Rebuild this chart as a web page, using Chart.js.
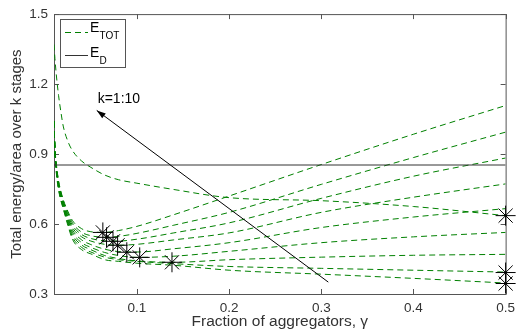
<!DOCTYPE html>
<html>
<head>
<meta charset="utf-8">
<script src="https://cdn.jsdelivr.net/npm/chart.js@4.4.1/dist/chart.umd.min.js"></script>
<style>
  html, body { margin: 0; padding: 0; background: #fff; }
  #wrap { width: 521px; height: 333px; }
</style>
</head>
<body>
<div id="wrap"><canvas id="energyChart" width="521" height="333"></canvas></div>
<script>
const gammaGrid = [0.01, 0.011, 0.0125, 0.015, 0.0175, 0.02, 0.025, 0.03, 0.04, 0.05, 0.065, 0.08, 0.1, 0.14, 0.2, 0.3, 0.4, 0.5];

// E_TOT, one curve per number of stages k = 1..10
const eTotK1 = [1.37, 1.31, 1.24, 1.15, 1.08, 1.02, 0.955, 0.915, 0.87, 0.843, 0.81, 0.79, 0.775, 0.748, 0.713, 0.70, 0.675, 0.636];
const eTotK2 = [1.04, 0.91, 0.82, 0.745, 0.70, 0.665, 0.595, 0.535, 0.49, 0.472, 0.447, 0.44, 0.432, 0.423, 0.402, 0.385, 0.367, 0.347];
const eTotK3 = [1.04, 0.91, 0.825, 0.75, 0.705, 0.67, 0.603, 0.545, 0.50, 0.48, 0.458, 0.447, 0.44, 0.43, 0.418, 0.41, 0.402, 0.394];
const eTotK4 = [1.04, 0.915, 0.83, 0.755, 0.71, 0.675, 0.61, 0.555, 0.51, 0.49, 0.465, 0.452, 0.442, 0.436, 0.447, 0.458, 0.466, 0.470];
const eTotK5 = [1.04, 0.915, 0.835, 0.76, 0.715, 0.68, 0.618, 0.565, 0.52, 0.50, 0.478, 0.465, 0.457, 0.462, 0.483, 0.52, 0.545, 0.564];
const eTotK6 = [1.04, 0.92, 0.84, 0.765, 0.72, 0.685, 0.625, 0.575, 0.532, 0.512, 0.492, 0.482, 0.48, 0.494, 0.52, 0.585, 0.63, 0.666];
const eTotK7 = [1.04, 0.92, 0.845, 0.77, 0.725, 0.69, 0.632, 0.585, 0.545, 0.527, 0.513, 0.509, 0.513, 0.532, 0.562, 0.65, 0.715, 0.772];
const eTotK8 = [1.04, 0.925, 0.85, 0.775, 0.73, 0.695, 0.64, 0.595, 0.555, 0.538, 0.528, 0.527, 0.535, 0.562, 0.605, 0.71, 0.805, 0.883];
const eTotK9 = [1.04, 0.925, 0.855, 0.78, 0.735, 0.70, 0.648, 0.605, 0.565, 0.55, 0.543, 0.547, 0.56, 0.595, 0.65, 0.77, 0.885, 0.994];
const eTotK10 = [1.04, 0.93, 0.86, 0.785, 0.74, 0.705, 0.655, 0.615, 0.58, 0.567, 0.564, 0.572, 0.59, 0.64, 0.72, 0.855, 0.985, 1.108];

// E_D is flat
const eD = 0.853;

// minimum of each curve (the * markers)
const minGamma = [0.5, 0.5, 0.5, 0.138, 0.103, 0.089, 0.079, 0.074, 0.067, 0.063];
const minEnergy = [0.636, 0.345, 0.392, 0.436, 0.457, 0.479, 0.509, 0.526, 0.543, 0.564];

// ticks
const xTickValues = [0.1, 0.2, 0.3, 0.4, 0.5];
const yTickValues = [0.3, 0.6, 0.9, 1.2, 1.5];

// annotation arrow (data units) and its label
const arrowFrom = [0.3076, 0.351];
const arrowTo = [0.0564, 1.087];
const arrowLabel = 'k=1:10';
const arrowLabelAt = [0.0574, 1.134];

const GREEN = '#008000';
const FONT = "'Liberation Sans', Arial, sans-serif";
Chart.defaults.font.family = FONT;
Chart.defaults.color = '#333333';

const toPoints = ys => ys.map((y, i) => ({ x: gammaGrid[i], y: y }));

const curves = [eTotK1, eTotK2, eTotK3, eTotK4, eTotK5, eTotK6, eTotK7, eTotK8, eTotK9, eTotK10];

const datasets = [{
    label: 'minima',
    data: minGamma.map((g, i) => ({ x: g, y: minEnergy[i] })),
    showLine: false,
    pointStyle: 'star',
    pointRadius: 10,
    borderColor: '#000',
    backgroundColor: '#000',
    borderWidth: 1,
    clip: false,
    order: 0
}, {
    label: 'E_D',
    data: [{ x: gammaGrid[0], y: eD }, { x: gammaGrid[gammaGrid.length - 1], y: eD }],
    showLine: true,
    borderColor: '#333333',
    borderWidth: 1,
    pointRadius: 0,
    order: 1
}];

curves.forEach((ys, k) => {
    datasets.push({
        label: 'E_TOT k=' + (k + 1),
        data: toPoints(ys),
        showLine: true,
        borderColor: GREEN,
        borderWidth: 1,
        borderDash: [6, 4],
        pointRadius: 0,
        cubicInterpolationMode: 'monotone',
        order: 2
    });
});

// box, inward ticks, legend with subscripts and the arrow
const decorations = {
    id: 'decorations',
    beforeDatasetsDraw(chart) {
        const { ctx, chartArea: a, scales: { x, y } } = chart;
        ctx.save();
        ctx.strokeStyle = '#555';
        ctx.lineWidth = 1;
        ctx.strokeRect(a.left + 0.5, a.top + 0.5, a.right - a.left, a.bottom - a.top);
        ctx.beginPath();
        xTickValues.forEach(v => {
            const px = Math.round(x.getPixelForValue(v)) + 0.5;
            ctx.moveTo(px, a.bottom); ctx.lineTo(px, a.bottom - 5);
            ctx.moveTo(px, a.top); ctx.lineTo(px, a.top + 5);
        });
        yTickValues.forEach(v => {
            const py = Math.round(y.getPixelForValue(v)) + 0.5;
            ctx.moveTo(a.left, py); ctx.lineTo(a.left + 5, py);
            ctx.moveTo(a.right, py); ctx.lineTo(a.right - 5, py);
        });
        ctx.stroke();
        ctx.restore();
    },
    afterDatasetsDraw(chart) {
        const { ctx, scales: { x, y } } = chart;
        ctx.save();

        // arrow
        const x0 = x.getPixelForValue(arrowFrom[0]), y0 = y.getPixelForValue(arrowFrom[1]);
        const x1 = x.getPixelForValue(arrowTo[0]), y1 = y.getPixelForValue(arrowTo[1]);
        ctx.strokeStyle = '#000';
        ctx.lineWidth = 1;
        ctx.beginPath();
        ctx.moveTo(x0, y0);
        ctx.lineTo(x1, y1);
        ctx.stroke();
        const ang = Math.atan2(y1 - y0, x1 - x0);
        ctx.fillStyle = '#000';
        ctx.beginPath();
        ctx.moveTo(x1, y1);
        ctx.lineTo(x1 - 9 * Math.cos(ang) + 3 * Math.sin(ang), y1 - 9 * Math.sin(ang) - 3 * Math.cos(ang));
        ctx.lineTo(x1 - 9 * Math.cos(ang) - 3 * Math.sin(ang), y1 - 9 * Math.sin(ang) + 3 * Math.cos(ang));
        ctx.closePath();
        ctx.fill();

        ctx.fillStyle = '#000';
        ctx.font = '14px ' + FONT;
        ctx.textBaseline = 'middle';
        ctx.textAlign = 'left';
        ctx.fillText(arrowLabel, x.getPixelForValue(arrowLabelAt[0]), y.getPixelForValue(arrowLabelAt[1]));

        // legend
        ctx.fillStyle = '#fff';
        ctx.fillRect(60, 19, 65, 48);
        ctx.strokeStyle = '#555';
        ctx.strokeRect(60.5, 19.5, 65, 48);

        ctx.strokeStyle = GREEN;
        ctx.setLineDash([6, 4]);
        ctx.beginPath();
        ctx.moveTo(65, 32.5); ctx.lineTo(88, 32.5);
        ctx.stroke();
        ctx.setLineDash([]);
        ctx.strokeStyle = '#333';
        ctx.beginPath();
        ctx.moveTo(65, 55.5); ctx.lineTo(88, 55.5);
        ctx.stroke();

        ctx.fillStyle = '#000';
        ctx.textBaseline = 'alphabetic';
        ctx.font = '14px ' + FONT;
        ctx.fillText('E', 90, 32);
        ctx.fillText('E', 90, 57);
        ctx.font = '10px ' + FONT;
        ctx.fillText('TOT', 99.5, 39);
        ctx.fillText('D', 99.5, 64);
        ctx.restore();
    }
};

new Chart(document.getElementById('energyChart'), {
    type: 'scatter',
    data: { datasets: datasets },
    options: {
        responsive: false,
        animation: false,
        layout: { padding: { left: 0, right: 13, top: 12, bottom: 0 } },
        plugins: { legend: { display: false }, tooltip: { enabled: false } },
        scales: {
            x: {
                type: 'linear',
                min: 0.01,
                max: 0.5,
                afterBuildTicks: s => { s.ticks = xTickValues.map(v => ({ value: v })); },
                afterFit: s => { s.height = 39; },
                grid: { display: false, drawTicks: false },
                border: { display: false },
                ticks: { font: { size: 13.5 }, padding: 6, autoSkip: false, maxRotation: 0, callback: v => v.toFixed(1) },
                title: { display: true, text: 'Fraction of aggregators, γ', font: { size: 15.5 }, padding: { top: 0, bottom: 2 } }
            },
            y: {
                min: 0.3,
                max: 1.5,
                afterBuildTicks: s => { s.ticks = yTickValues.map(v => ({ value: v })); },
                afterFit: s => { s.width = 54; },
                grid: { display: false, drawTicks: false },
                border: { display: false },
                ticks: { font: { size: 13.5 }, padding: 6, callback: v => v.toFixed(1) },
                title: { display: true, text: 'Total energy/area over k stages', font: { size: 15 }, padding: { top: 8, bottom: 0 } }
            }
        }
    },
    plugins: [decorations]
});
</script>
</body>
</html>
